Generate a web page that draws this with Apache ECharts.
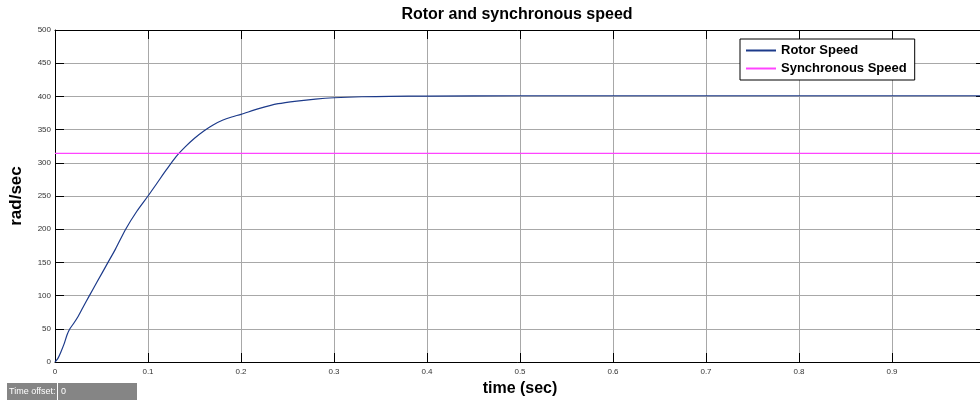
<!DOCTYPE html>
<html><head><meta charset="utf-8">
<script src="https://cdn.jsdelivr.net/npm/echarts@6/dist/echarts.min.js"></script>
<style>html,body{margin:0;padding:0;background:#fff}#c{width:980px;height:400px}</style>
</head><body><div id="c"></div>
<script>
const timeSec = [0, 0.003, 0.006, 0.01, 0.013, 0.016, 0.02, 0.025, 0.03, 0.037, 0.045, 0.057, 0.065, 0.076, 0.088, 0.1, 0.11, 0.12, 0.13, 0.14, 0.15, 0.16, 0.17, 0.18, 0.19, 0.2, 0.22, 0.24, 0.26, 0.28, 0.3, 0.33, 0.36, 0.4, 0.5, 0.6, 0.7, 0.8, 0.9, 1.0];
const rotorSpeed = [0, 5, 14, 28, 41, 50, 58, 69, 82, 100, 120, 150, 170, 200, 227, 250, 270, 290, 309, 324, 337, 348, 357, 364, 369, 373, 382, 389, 393, 396, 398, 399.5, 400, 400.5, 401, 401, 401, 401, 401, 401];
const syncTime = [0, 1.0];
const syncSpeed = [314.16, 314.16];
const xTicks = [0, 0.1, 0.2, 0.3, 0.4, 0.5, 0.6, 0.7, 0.8, 0.9];
const yTicks = [0, 50, 100, 150, 200, 250, 300, 350, 400, 450, 500];

const chart = echarts.init(document.getElementById('c'));
const lblFont = {fontFamily: 'Liberation Sans', fontSize: 8, color: '#333'};
const axisCommon = {
  axisLine: {show: true, onZero: false, lineStyle: {color: '#000', width: 1}},
  axisTick: {show: true, inside: true, length: 9, lineStyle: {color: '#000'}},
};
chart.setOption({
  animation: false,
  title: {text: 'Rotor and synchronous speed', left: 512, top: 2, textAlign: 'center',
    textStyle: {fontFamily: 'Liberation Sans', fontSize: 16, fontWeight: 'bold', color: '#000'}},
  grid: {left: 55, width: 930, top: 30, bottom: 38, containLabel: false, outerBoundsMode: 'none'},
  legend: {orient: 'vertical', left: 740, top: 39, itemWidth: 30, itemHeight: 2, itemGap: 3,
    padding: [4, 8, 4, 6], borderColor: '#000', borderWidth: 1, backgroundColor: '#fff',
    icon: 'rect',
    textStyle: {fontFamily: 'Liberation Sans', fontSize: 13, fontWeight: 'bold', color: '#000', lineHeight: 15},
    data: ['Rotor Speed', 'Synchronous Speed']},
  xAxis: [
    Object.assign({type: 'value', min: 0, max: 1, interval: 0.1, position: 'bottom',
      name: 'time (sec)', nameLocation: 'middle', nameGap: 17,
      nameTextStyle: {fontFamily: 'Liberation Sans', fontSize: 16, fontWeight: 'bold', color: '#000'},
      axisLabel: Object.assign({margin: 6, formatter: v => xTicks.some(t => Math.abs(t - v) < 1e-9) ? String(+v.toFixed(1)) : ''}, lblFont),
      splitLine: {show: true, lineStyle: {color: '#a8a8a8', width: 1}}}, axisCommon),
    Object.assign({type: 'value', min: 0, max: 1, interval: 0.1, position: 'top',
      axisLabel: {show: false}, splitLine: {show: false}}, axisCommon)
  ],
  yAxis: [
    Object.assign({type: 'value', min: 0, max: 500, interval: 50, position: 'left',
      name: 'rad/sec', nameLocation: 'middle', nameGap: 30, nameRotate: 90,
      nameTextStyle: {fontFamily: 'Liberation Sans', fontSize: 17, fontWeight: 'bold', color: '#000'},
      axisLabel: Object.assign({margin: 4, formatter: v => yTicks.includes(v) ? String(v) : ''}, lblFont),
      splitLine: {show: true, lineStyle: {color: '#a8a8a8', width: 1}}}, axisCommon),
    Object.assign({type: 'value', min: 0, max: 500, interval: 50, position: 'right',
      axisLabel: {show: false}, splitLine: {show: false}}, axisCommon)
  ],
  series: [
    {name: 'Rotor Speed', type: 'line', showSymbol: false, symbol: 'none', smooth: 0.25,
      lineStyle: {color: '#1c3a8a', width: 1.2}, itemStyle: {color: '#1c3a8a'},
      data: timeSec.map((t, i) => [t, rotorSpeed[i]])},
    {name: 'Synchronous Speed', type: 'line', showSymbol: false, symbol: 'none',
      lineStyle: {color: '#ff44ff', width: 1.2}, itemStyle: {color: '#ff44ff'},
      data: syncTime.map((t, i) => [t, syncSpeed[i]])}
  ],
  graphic: [
    {type: 'rect', left: 7, top: 383, shape: {width: 50, height: 17}, style: {fill: '#858585'}},
    {type: 'text', left: 9, top: 387, style: {text: 'Time offset:', fill: '#fff', font: '9px "Liberation Sans"'}},
    {type: 'rect', left: 58, top: 383, shape: {width: 79, height: 17}, style: {fill: '#858585'}},
    {type: 'text', left: 61, top: 387, style: {text: '0', fill: '#fff', font: '9px "Liberation Sans"'}}
  ]
});
</script></body></html>
